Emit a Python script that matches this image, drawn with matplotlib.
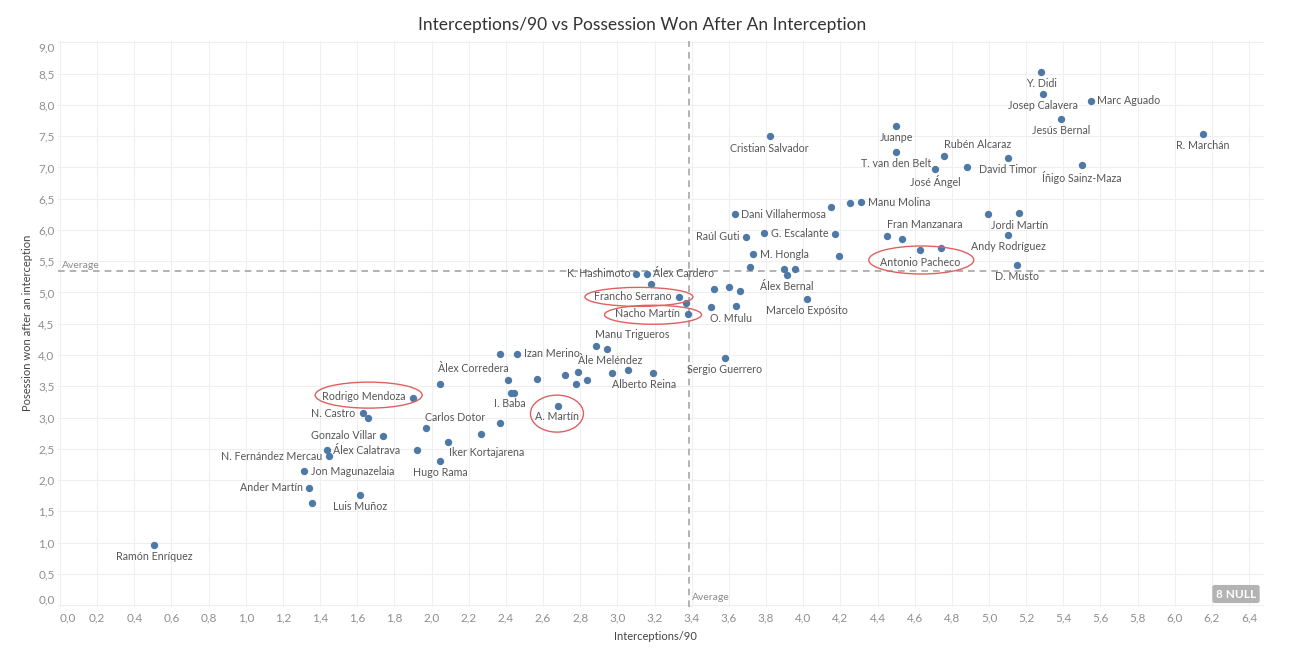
import matplotlib
matplotlib.use("Agg")
import matplotlib.pyplot as plt
from matplotlib.patches import Ellipse
from matplotlib.transforms import IdentityTransform

# ---------------- data ----------------
players = [
    "Ramón Enríquez", "Rodrigo Mendoza", "N. Castro", "", "Gonzalo Villar",
    "Álex Calatrava", "N. Fernández Mercau", "Jon Magunazelaia", "Ander Martín", "",
    "Luis Muñoz", "Àlex Corredera", "Carlos Dotor", "Iker Kortajarena", "",
    "Hugo Rama", "", "", "I. Baba", "",
    "A. Martín", "", "Izan Merino", "", "Manu Trigueros",
    "", "", "", "", "",
    "", "Àle Meléndez", "", "Alberto Reina", "Sergio Guerrero",
    "K. Hashimoto", "Álex Cardero", "", "Francho Serrano", "",
    "Nacho Martín", "", "", "", "Marcelo Expósito",
    "", "O. Mfulu", "", "", "",
    "Álex Bernal", "M. Hongla", "", "Dani Villahermosa", "",
    "", "Manu Molina", "Raúl Guti", "G. Escalante", "",
    "", "Fran Manzanara", "Antonio Pacheco", "", "",
    "Jordi Martín", "Andy Rodríguez", "D. Musto", "Y. Didi", "Josep Calavera",
    "Marc Aguado", "Jesús Bernal", "R. Marchán", "Cristian Salvador", "Juanpe",
    "T. van den Belt", "Rubén Alcaraz", "José Ángel", "", "David Timor",
    "Íñigo Sainz-Maza",
]
interceptions_p90 = [
    0.506, 1.898, 1.629, 1.658, 1.740,
    1.437, 1.449, 1.315, 1.338, 1.358,
    1.616, 2.047, 1.968, 2.088, 1.920,
    2.047, 2.268, 2.370, 2.429, 2.445,
    2.680, 2.370, 2.458, 2.883, 2.942,
    2.409, 2.569, 2.718, 2.790, 2.779,
    2.838, 2.969, 3.059, 3.190, 3.579,
    3.102, 3.161, 3.179, 3.331, 3.371,
    3.380, 3.518, 3.601, 3.661, 4.020,
    3.502, 3.640, 3.712, 3.898, 3.954,
    3.911, 3.728, 4.191, 3.631, 4.151,
    4.252, 4.311, 3.690, 3.789, 4.173,
    4.453, 4.531, 4.630, 4.741, 4.993,
    5.163, 5.102, 5.152, 5.280, 5.290,
    5.550, 5.390, 6.150, 3.820, 4.500,
    4.500, 4.760, 4.710, 4.880, 5.100,
    5.500,
]
possession_won = [
    0.96, 3.31, 3.07, 3.00, 2.71,
    2.48, 2.38, 2.14, 1.88, 1.63,
    1.76, 3.54, 2.83, 2.61, 2.48,
    2.31, 2.74, 2.91, 3.40, 3.40,
    3.19, 4.01, 4.02, 4.14, 4.10,
    3.60, 3.61, 3.68, 3.73, 3.54,
    3.60, 3.72, 3.76, 3.72, 3.96,
    5.30, 5.30, 5.13, 4.93, 4.83,
    4.66, 5.06, 5.08, 5.02, 4.90,
    4.77, 4.79, 5.40, 5.37, 5.38,
    5.28, 5.61, 5.58, 6.25, 6.36,
    6.43, 6.44, 5.89, 5.95, 5.93,
    5.90, 5.86, 5.68, 5.71, 6.26,
    6.27, 5.92, 5.44, 8.53, 8.18,
    8.07, 7.78, 7.54, 7.50, 7.67,
    7.25, 7.18, 6.97, 7.00, 7.155,
    7.04,
]
x_ticks = [round(0.2 * i, 1) for i in range(33)]
y_ticks = [round(0.5 * i, 1) for i in range(19)]
avg_interceptions = 3.385
avg_possession = 5.34
null_count = 8
highlighted = ["Rodrigo Mendoza", "Francho Serrano", "Nacho Martín",
               "Antonio Pacheco", "A. Martín"]

# ---------------- style / layout ----------------
plt.rcParams["font.family"] = ["Lato", "DejaVu Sans"]
W, H = 1298, 666
DOT = "#4e79a7"
LBL = "#555555"
TICK = "#8f8f8f"

# label placement: (dx px to the right, dy px downward, ha)
BELOW = (0, 12, "center")
label_layout = {
    "Rodrigo Mendoza": (-7, -2, "right"),
    "N. Castro": (-7, 0, "right"),
    "Gonzalo Villar": (-7, 0, "right"),
    "Álex Calatrava": (6, 0, "left"),
    "N. Fernández Mercau": (-7, 0, "right"),
    "Jon Magunazelaia": (7, 0, "left"),
    "Ander Martín": (-6, 0, "right"),
    "Àlex Corredera": (33, -15, "center"),
    "Carlos Dotor": (29, -11, "center"),
    "Iker Kortajarena": (1, 11, "left"),
    "I. Baba": (-2, 11, "center"),
    "A. Martín": (-1, 11, "center"),
    "Izan Merino": (7, 0, "left"),
    "Manu Trigueros": (26, -14, "center"),
    "Àle Meléndez": (-2, -12, "center"),
    "Alberto Reina": (-9, 12, "center"),
    "K. Hashimoto": (-6, 0, "right"),
    "Álex Cardero": (6, 0, "left"),
    "Francho Serrano": (-7, 0, "right"),
    "Nacho Martín": (-8, 0, "right"),
    "O. Mfulu": (-5, 13, "center"),
    "M. Hongla": (7, 0, "left"),
    "Dani Villahermosa": (6, 0, "left"),
    "Manu Molina": (7, 0, "left"),
    "Raúl Guti": (-6, 0, "right"),
    "G. Escalante": (7, 0, "left"),
    "Fran Manzanara": (23, -14, "center"),
    "Marc Aguado": (6, 0, "left"),
    "Rubén Alcaraz": (33, -12, "center"),
}
# ellipse: (center dx, center dy (down), width, height) in px relative to dot
ellipse_layout = {
    "Rodrigo Mendoza": (-44, -3, 107, 26),
    "Francho Serrano": (-40, 0, 108, 19),
    "Nacho Martín": (-35, 1, 97, 19),
    "Antonio Pacheco": (1, 10, 105, 28),
    "A. Martín": (-1, 8, 53, 37),
}

fig = plt.figure(figsize=(W / 100, H / 100), dpi=100)
fig.patch.set_facecolor("white")
ax_l, ax_r, ax_t, ax_b = 58, 1264, 41, 607
ax = fig.add_axes([ax_l / W, 1 - ax_b / H, (ax_r - ax_l) / W, (ax_b - ax_t) / H])
ax.set_xlim(-0.0108, 6.480)
ax.set_ylim(-0.032, 9.024)

for s in ax.spines.values():
    s.set_visible(False)

ax.set_xticks(x_ticks)
ax.set_yticks(y_ticks)
ax.set_xticklabels([f"{v:.1f}".replace(".", ",") for v in x_ticks])
ax.set_yticklabels([f"{v:.1f}".replace(".", ",") for v in y_ticks])
ax.tick_params(axis="both", length=0, labelsize=8.5, labelcolor=TICK)
ax.tick_params(axis="x", pad=4)
ax.tick_params(axis="y", pad=2.5)
ax.get_xticklabels()[0].set_ha("left")
ax.get_yticklabels()[0].set_va("bottom")
ax.get_yticklabels()[-1].set_va("top")
ax.grid(True, color="#efefef", linewidth=0.8, zorder=0)
ax.set_axisbelow(True)

# average reference lines
ax.axvline(avg_interceptions, color="#a6a6a6", lw=1.2, dashes=(4, 3), zorder=1)
ax.axhline(avg_possession, color="#a6a6a6", lw=1.2, dashes=(4, 3), zorder=1)
ax.annotate("Average", (ax.get_xlim()[0], avg_possession), xytext=(4, 6),
            textcoords="offset pixels", ha="left", va="center",
            fontsize=7.5, color="#8a8a8a")
ax.annotate("Average", (avg_interceptions, 0), xytext=(3, 7),
            textcoords="offset pixels", ha="left", va="center",
            fontsize=7.5, color="#8a8a8a")

ax.scatter(interceptions_p90, possession_won, s=28, color=DOT, linewidths=0, zorder=3)

for name, xv, yv in zip(players, interceptions_p90, possession_won):
    if not name:
        continue
    dx, dy, ha = label_layout.get(name, BELOW)
    ax.annotate(name, (xv, yv), xytext=(dx, -dy), textcoords="offset pixels",
                ha=ha, va="center", fontsize=7.7, color=LBL, zorder=4)

for name in highlighted:
    i = players.index(name)
    px, py = ax.transData.transform((interceptions_p90[i], possession_won[i]))
    dx, dy, w, h = ellipse_layout[name]
    e = Ellipse((px + dx, py - dy), w, h, transform=IdentityTransform(),
                fill=False, ec="#e06060", lw=1.0, clip_on=False, zorder=5)
    fig.add_artist(e)

fig.text(642 / W, 1 - 25 / H,
         "Interceptions/90 vs Possession Won After An Interception",
         ha="center", va="center", fontsize=12.5, color="#333333")
fig.text(655 / W, 1 - 636 / H, "Interceptions/90", ha="center", va="center",
         fontsize=8, color="#444444")
fig.text(28 / W, 1 - 323 / H, "Posession won after an interception",
         ha="center", va="center", rotation=90, fontsize=8, color="#444444")
fig.text(1236 / W, 1 - 594 / H, f"{null_count} NULL", ha="center", va="center",
         fontsize=8.5, fontweight="bold", color="white",
         bbox=dict(boxstyle="round,pad=0.3,rounding_size=0.2", fc="#b3b3b3", ec="none"))

fig.savefig("out.png", dpi=100, facecolor="white")
